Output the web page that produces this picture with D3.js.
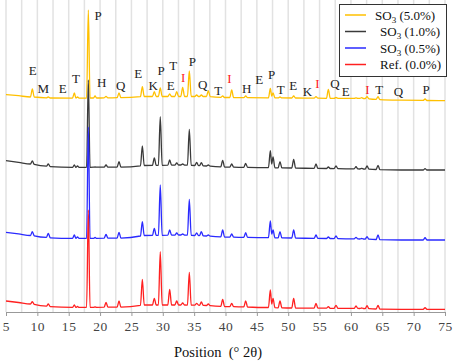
<!DOCTYPE html>
<html>
<head>
<meta charset="utf-8">
<script src="https://cdn.jsdelivr.net/npm/d3@7"></script>
<style>
body { margin: 0; background: #fff; }
svg text { font-family: "Liberation Serif", "Times New Roman", serif; }
</style>
</head>
<body>
<div id="chart"></div>
<script>
// 2-theta positions (deg) shared by all patterns
var twoTheta = [
    5.0, 7.0, 8.9, 9.2, 9.5, 11.45, 11.75, 12.05,
    15.6, 15.9, 16.15, 16.4, 16.65, 17.85, 18.13, 18.4,
    18.95, 19.2, 19.45, 20.65, 20.95, 21.25, 22.72, 23.02, 23.32,
    26.44, 26.74, 27.04, 28.35, 28.65, 28.95, 29.3, 29.6, 29.9,
    30.8, 31.1, 31.4, 31.92, 32.22, 32.52, 32.87, 33.17, 33.47,
    33.93, 34.23, 34.53, 35.1, 35.4, 35.7, 35.85, 36.15, 36.45,
    36.96, 37.26, 37.56, 39.25, 39.55, 39.85, 40.69, 40.99, 41.29,
    42.92, 43.22, 43.52, 46.85, 47.15, 47.37, 47.58, 47.88,
    48.39, 48.69, 48.99, 50.57, 50.87, 51.17, 54.13, 54.43, 54.73,
    56.1, 56.4, 56.7, 57.32, 57.62, 57.92, 60.51, 60.81, 61.11,
    61.42, 61.72, 62.0, 62.27, 62.57, 62.87, 64.02, 64.32, 64.62,
    68.0, 71.52, 71.82, 72.12, 75.0
];

// stacked intensities (a.u.)
var so3_50 = [
    217.5, 216.3, 215, 223, 215, 214.2, 215, 214,
    213.9, 219, 213.9, 215, 213.9, 214, 302, 214,
    214, 216, 214, 214.2, 215.5, 214.2, 214.4, 219, 214.4,
    215.3, 225.3, 215.5, 215.5, 220.3, 215.5, 215.5, 224, 215.5,
    215.5, 218, 215.5, 215.5, 220.3, 215.5, 215.5, 224.7, 215.5,
    215.5, 241, 215.5, 215.5, 217, 215.5, 215.5, 217, 215.5,
    215.5, 221.3, 215.3, 214.7, 216, 214.5, 214.5, 222, 214.4,
    214.4, 216, 214.3, 214.2, 223.7, 216, 219, 214.2,
    214.1, 215, 214.1, 214, 216, 214, 213.8, 215.3, 213.8,
    213.7, 222.7, 213.7, 213.7, 214.5, 213.7, 213.6, 214.2, 213.6,
    213.6, 214.3, 213.5, 213.4, 215.3, 213.2, 212.7, 215.3, 212.4,
    211.8, 211.6, 213, 211.5, 211.3
];
var so3_10 = [
    151.3, 149.7, 148, 151, 147.6, 145.8, 148, 145.3,
    144.6, 147, 144.7, 146, 144.7, 144.7, 232, 144.7,
    144.8, 145, 144.8, 144.8, 147, 144.8, 144.9, 150.3, 144.9,
    146.2, 166, 146.5, 146.6, 154, 146.7, 146.7, 195.3, 146.7,
    146.8, 152, 146.9, 146.9, 149, 147, 147, 148, 146.9,
    146.8, 182.7, 146.6, 146.5, 149.5, 146.3, 146.3, 149.3, 146.1,
    146, 147, 145.8, 145.2, 151.7, 145, 144.9, 148, 144.9,
    144.7, 148.7, 144.6, 144.3, 161.3, 148, 155, 144.2,
    144.2, 150.3, 144.1, 144, 152.7, 144, 143.7, 148, 143.6,
    143.5, 145, 143.5, 143.4, 146, 143.3, 143.1, 145.3, 143.1,
    143, 143.7, 143, 142.9, 146, 142.8, 142.5, 146.7, 142.3,
    142, 142, 143.3, 142, 142
];
var so3_05 = [
    79.7, 78.1, 76.5, 80.3, 76.2, 74.7, 78.7, 74.2,
    73.6, 77, 73.6, 75, 73.6, 73.7, 185, 73.7,
    73.7, 74.5, 73.7, 73.8, 77.7, 73.8, 73.9, 79.7, 73.9,
    76, 90.3, 76.5, 76.6, 83.7, 76.7, 76.7, 127, 76.7,
    76.8, 82, 76.9, 76.9, 79, 77, 77, 78, 76.9,
    76.8, 112.7, 76.6, 76.5, 79, 76.3, 76.3, 80.3, 76.1,
    76, 77, 75.8, 75.2, 82, 75, 74.9, 78, 74.9,
    74.7, 79.3, 74.6, 74.3, 91, 78, 82, 74.2,
    74.2, 80.3, 74.1, 74, 82, 74, 73.7, 77, 73.6,
    73.5, 75, 73.5, 73.4, 76, 73.3, 73.1, 74.7, 73.1,
    73, 73.5, 73, 72.9, 75.3, 72.8, 72.5, 77, 72.3,
    72, 72, 74.3, 72, 72
];
var ref_00 = [
    11, 9.5, 8, 10.3, 7.6, 5.9, 8, 5.3,
    4.6, 7, 4.6, 5.5, 4.6, 4.7, 102, 4.7,
    4.7, 5, 4.7, 4.8, 9.7, 4.8, 4.9, 11, 4.9,
    6.6, 32.7, 7, 7, 13.7, 7, 7, 60.3, 7,
    7, 22.7, 7, 7, 11, 7, 7, 9, 7,
    6.9, 39.7, 6.9, 6.8, 8.7, 6.8, 6.7, 10, 6.6,
    6.5, 8, 6.3, 5.7, 12.7, 5.5, 5.4, 8.7, 5.3,
    5.1, 11, 5, 4.5, 22, 8, 13.7, 4.3,
    4.2, 11, 4.2, 4, 13.7, 4, 3.8, 8.7, 3.8,
    3.8, 5.3, 3.7, 3.7, 6.7, 3.7, 3.6, 6, 3.6,
    3.5, 4, 3.5, 3.4, 6.3, 3.3, 3, 6.7, 2.9,
    2.7, 2.7, 4.3, 2.7, 2.7
];

var seriesNames = ["SO3 (5.0%)", "SO3 (1.0%)", "SO3 (0.5%)", "Ref. (0.0%)"];
var seriesColors = ["#ffc000", "#3a3a3a", "#2a2aff", "#ff2020"];

// phase labels over the top pattern
var phaseLetters = ["P", "E", "M", "E", "T", "H", "Q", "E", "K", "P", "T", "E", "I", "P", "Q",
                    "T", "I", "H", "E", "P", "T", "E", "K", "I", "Q", "E", "I", "T", "Q", "P"];
var phaseTheta = [19.67, 9.26, 10.95, 14.04, 16.16, 20.26, 23.29, 26.1, 28.49, 29.72, 31.68, 31.26, 33.27, 34.71, 36.37,
                  38.85, 40.61, 43.38, 45.39, 47.37, 48.8, 50.81, 53.05, 54.64, 57.46, 59.17, 62.61, 64.53, 67.56, 71.97];
var phaseHeight = [297, 241.3, 223.7, 223.7, 233.7, 229.3, 226.3, 238.7, 227, 241.3, 246.3, 227, 234.7, 251, 228,
                   222, 233.7, 223.7, 232.7, 238, 222.7, 227, 220.3, 228.7, 228.7, 220.3, 222.7, 222.7, 220.3, 222.7];

var xTicks = d3.range(5, 80, 5);

function init() {
    var w = 453;
    var h = 362;

    var svg = d3.select("#chart")
                .append("svg")
                .attr("width", w)
                .attr("height", h);

    var x = d3.scaleLinear()
              .domain([5, 75])
              .range([6, 445]);

    var y = d3.scaleLinear()
              .domain([0, 312])
              .range([312, 0]);

    // vertical grid every 2.5 deg
    svg.append("g")
       .selectAll("line")
       .data(d3.range(5, 75.01, 2.5))
       .enter()
       .append("line")
       .attr("x1", function(d) { return x(d); })
       .attr("x2", function(d) { return x(d); })
       .attr("y1", 0)
       .attr("y2", y(0))
       .attr("stroke", "#e2e2e2")
       .attr("stroke-width", 1.5);

    var xAxis = d3.axisBottom(x)
                  .tickValues(xTicks)
                  .tickSize(4)
                  .tickSizeOuter(0)
                  .tickPadding(5);

    var gx = svg.append("g")
                .attr("transform", "translate(0," + y(0) + ")")
                .call(xAxis);
    gx.select(".domain").attr("stroke", "#999");
    gx.selectAll(".tick line").attr("stroke", "#999");
    gx.selectAll(".tick text")
      .attr("fill", "#444")
      .style("font-size", "13.5px")
      .style("letter-spacing", "0.6px");

    svg.append("text")
       .attr("x", 218)
       .attr("y", 357)
       .attr("text-anchor", "middle")
       .attr("fill", "#111")
       .style("font-size", "14.5px")
       .style("white-space", "pre")
       .text("Position  (\u00b0 2\u03b8)");

    var allSeries = [so3_50, so3_10, so3_05, ref_00];

    var line = d3.line()
                 .x(function(d) { return x(d[0]); })
                 .y(function(d) { return y(d[1]); })
                 .curve(d3.curveMonotoneX);

    svg.append("g")
       .selectAll("path")
       .data(allSeries)
       .enter()
       .append("path")
       .attr("d", function(vals) {
           return line(twoTheta.map(function(t, i) { return [t, vals[i]]; }));
       })
       .attr("fill", "none")
       .attr("stroke", function(d, i) { return seriesColors[i]; })
       .attr("stroke-width", 1.3)
       .attr("stroke-linejoin", "round");

    // phase letters
    svg.append("g")
       .selectAll("text")
       .data(phaseLetters)
       .enter()
       .append("text")
       .attr("x", function(d, i) { return x(phaseTheta[i]); })
       .attr("y", function(d, i) { return y(phaseHeight[i]); })
       .attr("dy", "0.35em")
       .attr("text-anchor", "middle")
       .attr("fill", function(d) { return d == "I" ? "#ff2020" : "#222"; })
       .style("font-size", "13px")
       .text(function(d) { return d; });

    // legend
    var legend = svg.append("g");
    legend.append("rect")
          .attr("x", 339.5)
          .attr("y", 4.5)
          .attr("width", 107)
          .attr("height", 72)
          .attr("fill", "#fff")
          .attr("stroke", "#333")
          .attr("stroke-width", 1);

    var rows = legend.selectAll("g.row")
                     .data(seriesNames)
                     .enter()
                     .append("g")
                     .attr("class", "row")
                     .attr("transform", function(d, i) { return "translate(0," + (15 + i * 16.5) + ")"; });

    rows.append("line")
        .attr("x1", 345)
        .attr("x2", 366)
        .attr("stroke", function(d, i) { return seriesColors[i]; })
        .attr("stroke-width", 1.5);

    rows.each(function(d, i) {
        var t = d3.select(this).append("text")
                  .attr("x", i == 0 ? 375 : 380)
                  .attr("y", 4.5)
                  .attr("fill", "#111")
                  .style("font-size", "13px");
        if (d.indexOf("SO3") == 0) {
            t.append("tspan").text("SO");
            t.append("tspan").attr("dy", 3).style("font-size", "9px").text("3");
            t.append("tspan").attr("dy", -3).text(d.slice(3));
        } else {
            t.text(d);
        }
    });
}
window.onload = init;
</script>
</body>
</html>
